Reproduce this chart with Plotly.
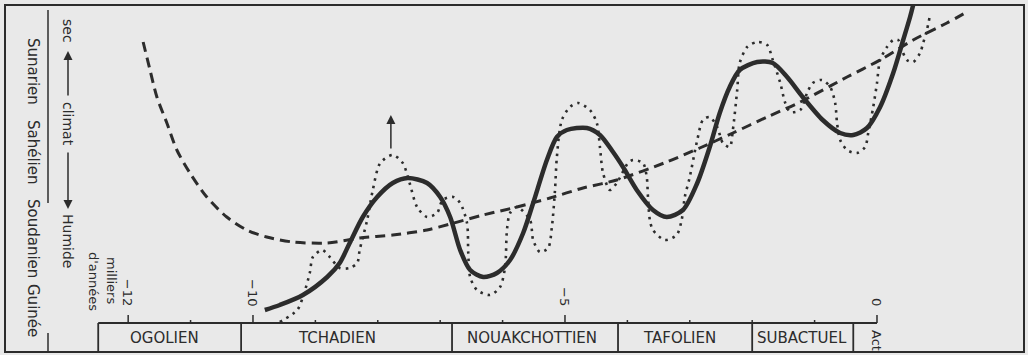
import plotly.graph_objects as go

# ---------------- data ----------------
# x: thousands of years (negative = before present); y: dryness index (arbitrary units, up = drier)
solid_t = [-9.81, -9.57, -9.20, -8.81, -8.61, -8.45, -8.24, -8.01, -7.76, -7.52, -7.21, -7.00,
           -6.84, -6.68, -6.52, -6.31, -6.09, -5.88, -5.67, -5.51, -5.29, -5.13, -4.97, -4.65,
           -4.44, -4.23, -4.07, -3.85, -3.59, -3.37, -3.11, -2.88, -2.68, -2.52, -2.36, -2.20,
           -1.92, -1.67, -1.44, -1.19, -0.87, -0.59, -0.38, -0.16, 0.05, 0.26, 0.42, 0.53, 0.58]
solid_v = [1.3, 1.8, 2.8, 4.6, 6.0, 8.0, 10.6, 12.6, 14.0, 14.5, 14.0, 12.6,
           10.6, 7.3, 5.3, 4.6, 5.0, 6.3, 9.0, 12.0, 16.3, 18.6, 19.3, 19.5,
           18.8, 17.1, 15.6, 13.3, 11.3, 10.6, 11.3, 14.0, 17.6, 21.0, 23.6, 25.3,
           26.1, 26.0, 24.6, 22.6, 20.3, 19.0, 18.8, 19.5, 21.6, 25.0, 28.3, 30.6, 31.8]

dashed_t = [-11.76, -11.65, -11.54, -11.38, -11.22, -11.01, -10.74, -10.42, -10.10, -9.78,
            -9.36, -8.81, -8.29, -7.76, -7.21, -6.84, -6.31, -5.77, -5.24, -4.71, -4.17,
            -3.37, -2.84, -2.31, -1.76, -1.23, -0.48, 0.05, 0.58, 1.12, 1.44]
dashed_v = [28.1, 25.3, 22.6, 20.0, 17.3, 15.0, 12.6, 10.6, 9.3, 8.6,
            8.1, 8.0, 8.5, 8.8, 9.3, 9.9, 10.8, 11.6, 12.5, 13.5, 14.3,
            16.1, 17.5, 19.0, 20.6, 22.1, 24.6, 26.3, 28.3, 30.0, 31.1]

dotted_t = [-9.57, -9.29, -9.20, -9.09, -9.04, -8.89, -8.77, -8.61, -8.45, -8.33, -8.29, -8.17,
            -8.08, -7.96, -7.76, -7.60, -7.49, -7.37, -7.21, -7.05, -6.96, -6.79, -6.68, -6.57,
            -6.55, -6.52, -6.41, -6.20, -6.04, -5.96, -5.93, -5.88, -5.77, -5.56, -5.51, -5.40,
            -5.27, -5.21, -5.16, -5.13, -5.05, -4.92, -4.79, -4.60, -4.49, -4.44, -4.39, -4.28,
            -4.17, -3.99, -3.91, -3.75, -3.69, -3.67, -3.64, -3.59, -3.40, -3.21, -3.13, -3.08,
            -3.00, -2.88, -2.79, -2.68, -2.56, -2.47, -2.36, -2.31, -2.24, -2.20, -2.08, -1.92,
            -1.76, -1.67, -1.55, -1.47, -1.39, -1.23, -1.12, -1.03, -0.88, -0.75, -0.67, -0.64,
            -0.59, -0.48, -0.32, -0.19, -0.14, -0.06, 0.00, 0.05, 0.16, 0.26, 0.34, 0.40,
            0.48, 0.58, 0.69, 0.74, 0.80, 0.85]
dotted_v = [0.1, 1.3, 2.6, 5.0, 6.6, 7.3, 6.6, 5.5, 5.5, 6.0, 7.3, 10.3,
            13.3, 16.0, 16.8, 16.0, 14.0, 11.6, 10.6, 11.0, 12.3, 12.6, 12.0, 10.0,
            7.0, 4.6, 3.3, 2.8, 3.6, 5.6, 9.3, 11.0, 11.6, 10.3, 8.3, 7.1,
            7.5, 9.6, 13.3, 16.6, 20.3, 21.6, 22.0, 21.3, 20.0, 17.6, 15.0, 13.3,
            14.0, 16.0, 16.3, 16.0, 14.6, 12.6, 10.3, 9.3, 8.3, 8.8, 10.3, 12.6,
            14.6, 18.3, 20.3, 20.6, 19.6, 18.0, 17.6, 19.3, 23.3, 26.0, 27.6, 28.1,
            27.8, 26.3, 24.0, 22.0, 21.1, 21.3, 23.0, 24.0, 24.3, 23.6, 22.0, 20.0,
            18.3, 17.3, 17.0, 17.6, 19.0, 21.6, 24.0, 26.3, 27.6, 28.3, 28.3, 27.3,
            26.3, 26.1, 27.0, 28.0, 29.3, 30.8]

tick_years = [-12, -11, -10, -9, -8, -7, -6, -5, -4, -3, -2, -1, 0]
labeled_ticks = [-12, -10, -5, 0]
tick_labels = ["\u221212", "\u221210", "\u22125", "0"]

period_names = ["OGOLIEN", "TCHADIEN", "NOUAKCHOTTIEN", "TAFOLIEN", "SUBACTUEL"]
period_bounds = [-12.48, -10.19, -6.81, -4.15, -2.0, -0.38]
period_label_t = [-11.41, -8.65, -5.53, -3.16, -1.20]
band_end_t = 0.0

zone_names = ["Sunarien", "Sahélien", "Soudanien", "Guinée"]

arrow_t = -7.79
arrow_v = [17.3, 20.8]

# ---------------- layout constants (pixels) ----------------
W, H = 1028, 355
BG = "#e9e9e9"
INK = "#2c2c2c"
FONT = "DejaVu Sans"
X_RANGE = [-14.054, 2.420]
Y_RANGE = [-3.2, 32.3]
BAND_TOP, BAND_BOT = 323, 352


def pxx(x):
    return x / W


def pxy(y):
    return 1 - y / H


fig = go.Figure()

fig.add_trace(go.Scatter(x=dashed_t, y=dashed_v, mode="lines",
                         line=dict(color=INK, width=3, dash="10px,6px", shape="spline", smoothing=0.8),
                         hoverinfo="skip", showlegend=False))
fig.add_trace(go.Scatter(x=dotted_t, y=dotted_v, mode="lines",
                         line=dict(color=INK, width=2.6, dash="2.5px,5px", shape="spline", smoothing=0.8),
                         hoverinfo="skip", showlegend=False))
fig.add_trace(go.Scatter(x=solid_t, y=solid_v, mode="lines",
                         line=dict(color=INK, width=4.5, shape="spline", smoothing=0.8),
                         hoverinfo="skip", showlegend=False))

shapes = []
# outer frame
shapes.append(dict(type="rect", xref="paper", yref="paper", x0=pxx(5), x1=pxx(1024),
                   y0=pxy(352), y1=pxy(5), line=dict(color=INK, width=2)))
# inner vertical separator of the left label column
shapes.append(dict(type="line", xref="paper", yref="paper", x0=pxx(48), x1=pxx(48),
                   y0=pxy(10), y1=pxy(203), line=dict(color=INK, width=1.5)))
shapes.append(dict(type="line", xref="paper", yref="paper", x0=pxx(48), x1=pxx(48),
                   y0=pxy(333), y1=pxy(352), line=dict(color=INK, width=1.5)))
# period band
shapes.append(dict(type="line", xref="x", yref="paper", x0=period_bounds[0], x1=band_end_t,
                   y0=pxy(BAND_TOP), y1=pxy(BAND_TOP), line=dict(color=INK, width=1.8)))
for b in period_bounds:
    shapes.append(dict(type="line", xref="x", yref="paper", x0=b, x1=b,
                       y0=pxy(BAND_TOP), y1=pxy(BAND_BOT), line=dict(color=INK, width=1.8)))
for t in tick_years:
    ln = 8 if t in labeled_ticks else 3
    shapes.append(dict(type="line", xref="x", yref="paper", x0=t, x1=t,
                       y0=pxy(BAND_TOP), y1=pxy(BAND_TOP - ln), line=dict(color=INK, width=1.5)))

ann = []
for name, t in zip(period_names, period_label_t):
    ann.append(dict(x=t, xref="x", y=pxy(338), yref="paper", text=name, showarrow=False,
                    font=dict(family=FONT, size=15, color=INK), xanchor="center", yanchor="middle"))
ann.append(dict(x=band_end_t, xref="x", y=pxy(341), yref="paper", text="Act", showarrow=False,
                textangle=90, font=dict(family=FONT, size=13, color=INK),
                xanchor="center", yanchor="middle"))

label_y = {-12: 292, -10: 293, -5: 297, 0: 302}
for t, lab in zip(labeled_ticks, tick_labels):
    ann.append(dict(x=t, xref="x", y=pxy(label_y[t]), yref="paper", text=lab, showarrow=False,
                    textangle=90, font=dict(family=FONT, size=13, color=INK),
                    xanchor="center", yanchor="middle"))

ann.append(dict(x=pxx(112), xref="paper", y=pxy(280), yref="paper", text="milliers", showarrow=False,
                textangle=90, font=dict(family=FONT, size=13, color=INK), xanchor="center", yanchor="middle"))
ann.append(dict(x=pxx(94), xref="paper", y=pxy(281), yref="paper", text="d'années", showarrow=False,
                textangle=90, font=dict(family=FONT, size=13, color=INK), xanchor="center", yanchor="middle"))

zone_y = [71, 152, 238, 310]
for name, yy in zip(zone_names, zone_y):
    ann.append(dict(x=pxx(33), xref="paper", y=pxy(yy), yref="paper", text=name, showarrow=False,
                    textangle=90, font=dict(family=FONT, size=15, color=INK),
                    xanchor="center", yanchor="middle"))

for txt, yy in [("sec", 31), ("climat", 124), ("Humide", 241)]:
    ann.append(dict(x=pxx(68), xref="paper", y=pxy(yy), yref="paper", text=txt, showarrow=False,
                    textangle=90, font=dict(family=FONT, size=14, color=INK),
                    xanchor="center", yanchor="middle"))
# climate arrows
ann.append(dict(x=pxx(68), xref="paper", y=pxy(51), yref="paper", text="", showarrow=True,
                ax=0, ay=46, arrowhead=2, arrowsize=1.2, arrowwidth=1.5, arrowcolor=INK))
ann.append(dict(x=pxx(68), xref="paper", y=pxy(209), yref="paper", text="", showarrow=True,
                ax=0, ay=-58, arrowhead=2, arrowsize=1.2, arrowwidth=1.5, arrowcolor=INK))
# arrow in plot
ann.append(dict(x=arrow_t, xref="x", y=arrow_v[1], yref="y", ax=arrow_t, axref="x",
                ay=arrow_v[0], ayref="y", text="", showarrow=True, arrowhead=2,
                arrowsize=1.2, arrowwidth=1.5, arrowcolor=INK))

fig.update_layout(
    width=W, height=H, margin=dict(l=0, r=0, t=0, b=0),
    paper_bgcolor=BG, plot_bgcolor=BG,
    xaxis=dict(range=X_RANGE, visible=False, fixedrange=True),
    yaxis=dict(range=Y_RANGE, visible=False, fixedrange=True),
    shapes=shapes, annotations=ann, showlegend=False,
)

fig.write_html("out.html")
